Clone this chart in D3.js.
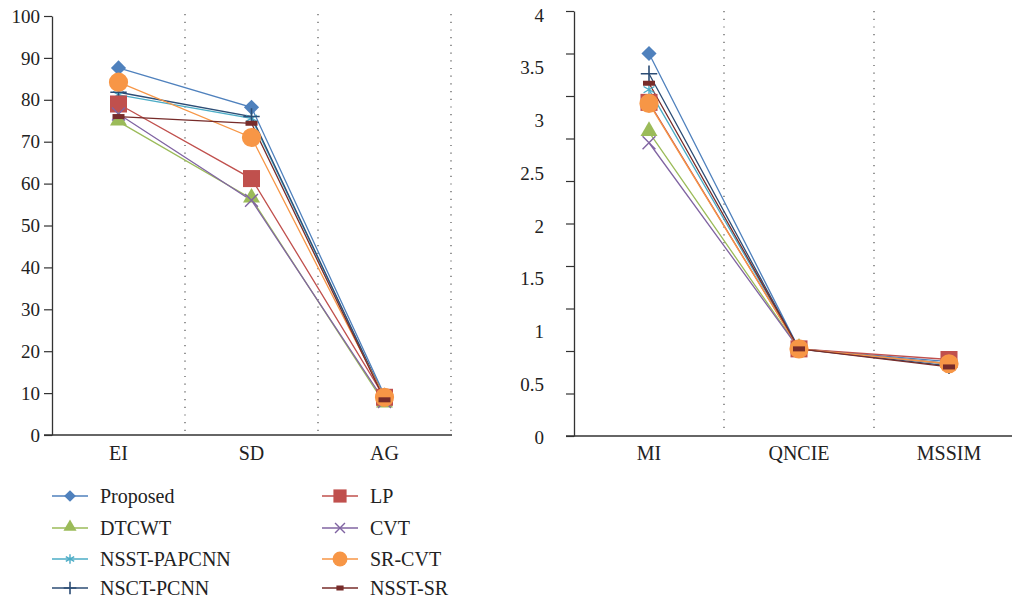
<!DOCTYPE html>
<html>
<head>
<meta charset="utf-8">
<script src="https://cdn.jsdelivr.net/npm/d3@7"></script>
<style>
  body { margin: 0; background: #fff; }
</style>
</head>
<body>
<script>
var width = 1012, height = 604;
var FONT = "Liberation Serif";

// categories
var leftCats = ["EI", "SD", "AG"];
var rightCats = ["MI", "QNCIE", "MSSIM"];
var methods = ["Proposed", "DTCWT", "NSST-PAPCNN", "NSCT-PCNN", "LP", "CVT", "SR-CVT", "NSST-SR"];

// values per method, EI / SD / AG
var leftVals = {
  "Proposed":    [87.6, 78.2, 9.5],
  "DTCWT":       [74.8, 56.4, 7.5],
  "NSST-PAPCNN": [81.2, 75.6, 8.7],
  "NSCT-PCNN":   [81.8, 76.0, 8.8],
  "LP":          [79.0, 61.2, 9.0],
  "CVT":         [76.6, 56.0, 8.0],
  "SR-CVT":      [84.2, 71.0, 9.0],
  "NSST-SR":     [76.0, 74.4, 8.4]
};
// MI / QNCIE / MSSIM
var rightVals = {
  "Proposed":    [3.60, 0.82, 0.70],
  "DTCWT":       [2.86, 0.82, 0.68],
  "NSST-PAPCNN": [3.26, 0.82, 0.68],
  "NSCT-PCNN":   [3.41, 0.82, 0.66],
  "LP":          [3.14, 0.82, 0.72],
  "CVT":         [2.76, 0.82, 0.68],
  "SR-CVT":      [3.13, 0.82, 0.68],
  "NSST-SR":     [3.32, 0.82, 0.65]
};

var leftTicks = d3.range(0, 101, 10);
var rightTicks = d3.range(0, 4.001, 0.4);
var rightLabels = [0, 0.5, 1, 1.5, 2, 2.5, 3, 3.5, 4];

var colors = {
  "Proposed": "#4f81bd", "DTCWT": "#9bbb59", "NSST-PAPCNN": "#4bacc6", "NSCT-PCNN": "#2c4d75",
  "LP": "#c0504d", "CVT": "#8064a2", "SR-CVT": "#f79646", "NSST-SR": "#772c2a"
};
var shapes = {
  "Proposed": "diamond", "DTCWT": "triangle", "NSST-PAPCNN": "asterisk", "NSCT-PCNN": "plus",
  "LP": "square", "CVT": "times", "SR-CVT": "circle", "NSST-SR": "bar"
};

var svg = d3.select("body").append("svg")
    .attr("width", width)
    .attr("height", height)
    .attr("font-family", FONT);

// draw one marker at (0,0) in group g
function marker(g, name, scale) {
  var c = colors[name], t = shapes[name];
  scale = scale || 1;
  if (t == "diamond") {
    g.append("path").attr("d", d3.symbol(d3.symbolSquare, 115 * scale)())
      .attr("transform", "rotate(45)").attr("fill", c);
  } else if (t == "square") {
    g.append("path").attr("d", d3.symbol(d3.symbolSquare, 290 * scale)()).attr("fill", c);
  } else if (t == "circle") {
    g.append("path").attr("d", d3.symbol(d3.symbolCircle, 290 * scale)()).attr("fill", c);
  } else if (t == "triangle") {
    g.append("path").attr("d", d3.symbol(d3.symbolTriangle, 125 * scale)())
      .attr("transform", "translate(0,-1)").attr("fill", c);
  } else if (t == "times") {
    g.append("path").attr("d", d3.symbol(d3.symbolTimes, 110 * scale)())
      .attr("fill", "none").attr("stroke", c).attr("stroke-width", 1.4);
  } else if (t == "plus") {
    g.append("path").attr("d", d3.symbol(d3.symbolPlus, 90 * scale)())
      .attr("fill", "none").attr("stroke", c).attr("stroke-width", 1.6);
  } else if (t == "asterisk") {
    g.append("path").attr("d", d3.symbol(d3.symbolAsterisk, 110 * scale)())
      .attr("fill", "none").attr("stroke", c).attr("stroke-width", 1.4);
  } else if (t == "bar") {
    g.append("rect").attr("x", -6 * scale).attr("y", -2.5).attr("width", 12 * scale).attr("height", 5)
      .attr("fill", c);
  }
}

function drawPanel(cats, vals, x, y, ticks, labels, yLab, labOff, sepTop) {
  var g = svg.append("g");
  var bottom = y.range()[0];

  // dotted separators
  cats.forEach(function(c, i) {
    var xs = x(c) + x.bandwidth();
    g.append("line")
      .attr("x1", xs).attr("x2", xs)
      .attr("y1", sepTop).attr("y2", bottom - 4)
      .attr("stroke", "#444").attr("stroke-width", 1.1)
      .attr("stroke-dasharray", "1.2,6.5");
  });

  // y axis
  var ax = g.append("g")
    .attr("transform", "translate(" + x.range()[0] + ",0)")
    .call(d3.axisLeft(y).tickValues(ticks).tickFormat("").tickSize(8).tickSizeOuter(0));
  ax.select(".domain").attr("stroke", "#333").attr("stroke-width", 1.3);
  ax.selectAll(".tick line").attr("stroke", "#333").attr("stroke-width", 1.2);

  g.selectAll(".ylab").data(labels).enter().append("text")
    .attr("class", "ylab")
    .attr("x", x.range()[0] - labOff)
    .attr("y", function(d) { return yLab(d); })
    .attr("dy", "0.35em")
    .attr("text-anchor", "end")
    .attr("font-family", FONT)
    .attr("font-size", 19)
    .attr("fill", "#222")
    .text(function(d) { return d; });

  // baseline
  g.append("line")
    .attr("x1", x.range()[0] - 8).attr("x2", x.range()[1] + 1)
    .attr("y1", bottom).attr("y2", bottom)
    .attr("stroke", "#333").attr("stroke-width", 1.3);

  g.selectAll(".xlab").data(cats).enter().append("text")
    .attr("class", "xlab")
    .attr("x", function(d) { return x(d) + x.bandwidth() / 2; })
    .attr("y", 453)
    .attr("dy", "0.35em")
    .attr("text-anchor", "middle")
    .attr("font-family", FONT)
    .attr("font-size", 20)
    .attr("fill", "#222")
    .text(function(d) { return d; });

  var line = d3.line()
    .x(function(d, i) { return x(cats[i]) + x.bandwidth() / 2; })
    .y(function(d) { return y(d); });

  methods.forEach(function(m) {
    g.append("path")
      .attr("d", line(vals[m]))
      .attr("fill", "none")
      .attr("stroke", colors[m])
      .attr("stroke-width", 1.3);
  });
  methods.forEach(function(m) {
    vals[m].forEach(function(v, i) {
      var mg = g.append("g")
        .attr("transform", "translate(" + (x(cats[i]) + x.bandwidth() / 2) + "," + y(v) + ")");
      marker(mg, m);
    });
  });
}

// left panel
var xL = d3.scaleBand().domain(leftCats).range([52, 451]).padding(0);
var yL = d3.scaleLinear().domain([0, 100]).range([435, 16]);
drawPanel(leftCats, leftVals, xL, yL, leftTicks, leftTicks, yL, 12, 14);

// right panel
var xR = d3.scaleBand().domain(rightCats).range([574, 1024]).padding(0);
var yR = d3.scaleLinear().domain([0, 4]).range([436, 11]);
var yRlab = d3.scaleLinear().domain([0, 4]).range([437, 15]);
drawPanel(rightCats, rightVals, xR, yR, rightTicks, rightLabels, yRlab, 30, 11);

// legend
var legCols = [[52, 88, 100], [322, 358, 370]];
var legRows = [496, 528, 559, 588];
methods.forEach(function(m, i) {
  var col = i < 4 ? legCols[0] : legCols[1];
  var row = legRows[i % 4];
  var lg = svg.append("g");
  lg.append("line")
    .attr("x1", col[0]).attr("x2", col[1])
    .attr("y1", row).attr("y2", row)
    .attr("stroke", colors[m]).attr("stroke-width", 1.3);
  var mg = lg.append("g").attr("transform", "translate(" + ((col[0] + col[1]) / 2) + "," + row + ")");
  marker(mg, m, 0.6);
  lg.append("text")
    .attr("x", col[2]).attr("y", row)
    .attr("dy", "0.35em")
    .attr("font-family", FONT)
    .attr("font-size", 20)
    .attr("fill", "#222")
    .text(m);
});
</script>
</body>
</html>
